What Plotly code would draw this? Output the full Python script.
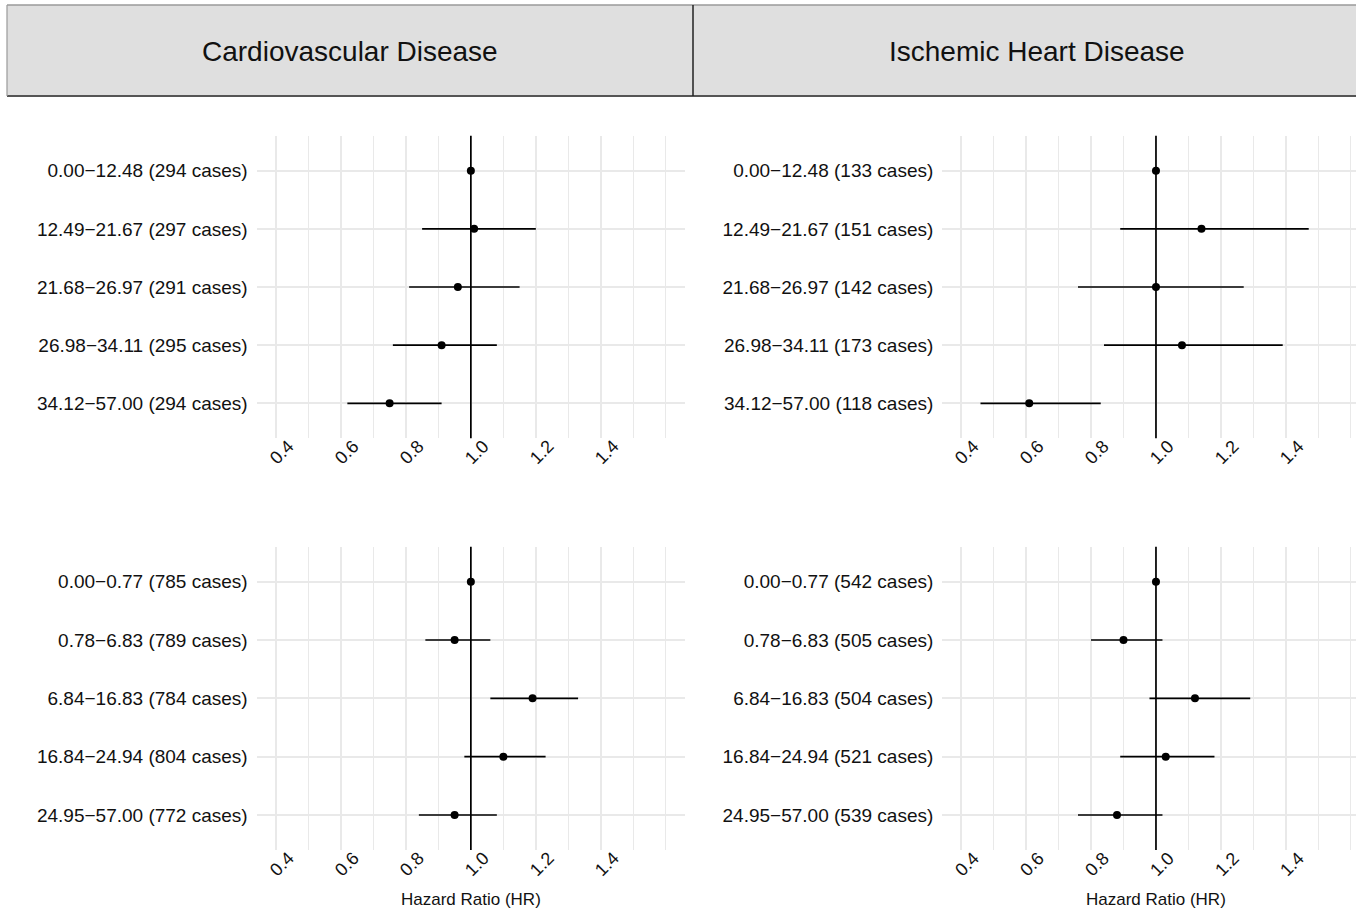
import plotly.graph_objects as go

# ---------------- data ----------------
panel_titles = ["Cardiovascular Disease", "Ischemic Heart Disease"]
x_title = "Hazard Ratio (HR)"
x_tick_vals = [0.4, 0.6, 0.8, 1.0, 1.2, 1.4]
x_tick_text = ["0.4", "0.6", "0.8", "1.0", "1.2", "1.4"]

cvd_top_labels = ["0.00−12.48 (294 cases)", "12.49−21.67 (297 cases)", "21.68−26.97 (291 cases)",
                  "26.98−34.11 (295 cases)", "34.12−57.00 (294 cases)"]
cvd_top_hr = [1.00, 1.01, 0.96, 0.91, 0.75]
cvd_top_lo = [1.00, 0.85, 0.81, 0.76, 0.62]
cvd_top_hi = [1.00, 1.20, 1.15, 1.08, 0.91]

ihd_top_labels = ["0.00−12.48 (133 cases)", "12.49−21.67 (151 cases)", "21.68−26.97 (142 cases)",
                  "26.98−34.11 (173 cases)", "34.12−57.00 (118 cases)"]
ihd_top_hr = [1.00, 1.14, 1.00, 1.08, 0.61]
ihd_top_lo = [1.00, 0.89, 0.76, 0.84, 0.46]
ihd_top_hi = [1.00, 1.47, 1.27, 1.39, 0.83]

cvd_bot_labels = ["0.00−0.77 (785 cases)", "0.78−6.83 (789 cases)", "6.84−16.83 (784 cases)",
                  "16.84−24.94 (804 cases)", "24.95−57.00 (772 cases)"]
cvd_bot_hr = [1.00, 0.95, 1.19, 1.10, 0.95]
cvd_bot_lo = [1.00, 0.86, 1.06, 0.98, 0.84]
cvd_bot_hi = [1.00, 1.06, 1.33, 1.23, 1.08]

ihd_bot_labels = ["0.00−0.77 (542 cases)", "0.78−6.83 (505 cases)", "6.84−16.83 (504 cases)",
                  "16.84−24.94 (521 cases)", "24.95−57.00 (539 cases)"]
ihd_bot_hr = [1.00, 0.90, 1.12, 1.03, 0.88]
ihd_bot_lo = [1.00, 0.80, 0.98, 0.89, 0.76]
ihd_bot_hi = [1.00, 1.02, 1.29, 1.18, 1.02]

# ---------------- layout geometry ----------------
W, H = 1356, 909
FONT = "Liberation Sans, Arial, Helvetica, sans-serif"
INK = "#111111"
GRID = "#e9e9e9"

def px_x(p):
    return p / W

def px_y(p):
    return 1 - p / H

panels = [
    # labels, hr, lo, hi, x-domain px, y-domain px (top,bottom), x-range
    (cvd_top_labels, cvd_top_hr, cvd_top_lo, cvd_top_hi, (256.7, 685.0), (135.8, 438.2), [0.341, 1.659]),
    (ihd_top_labels, ihd_top_hr, ihd_top_lo, ihd_top_hi, (942.3, 1356.0), (135.8, 438.2), [0.3425, 1.6155]),
    (cvd_bot_labels, cvd_bot_hr, cvd_bot_lo, cvd_bot_hi, (256.7, 685.0), (546.7, 850.0), [0.341, 1.659]),
    (ihd_bot_labels, ihd_bot_hr, ihd_bot_lo, ihd_bot_hi, (942.3, 1356.0), (546.7, 850.0), [0.3425, 1.6155]),
]

fig = go.Figure()
layout = dict(
    width=W, height=H, autosize=False,
    margin=dict(l=0, r=0, t=0, b=0),
    paper_bgcolor="white", plot_bgcolor="white",
    showlegend=False,
    font=dict(family=FONT, color=INK),
)
shapes = []
annotations = []

for i, (labels, hr, lo, hi, xd, yd, xr) in enumerate(panels):
    n = i + 1
    xa = "x" if n == 1 else f"x{n}"
    ya = "y" if n == 1 else f"y{n}"
    err_plus = [h - m for h, m in zip(hi, hr)]
    err_minus = [m - l for m, l in zip(hr, lo)]
    fig.add_trace(go.Scatter(
        x=hr, y=labels, mode="markers",
        marker=dict(color="black", size=8),
        error_x=dict(type="data", array=err_plus, arrayminus=err_minus,
                     symmetric=False, width=0, thickness=1.7, color="black"),
        xaxis=xa, yaxis=ya, hoverinfo="x+y",
    ))
    xkey = "xaxis" if n == 1 else f"xaxis{n}"
    ykey = "yaxis" if n == 1 else f"yaxis{n}"
    layout[xkey] = dict(
        domain=[px_x(xd[0]), min(1.0, px_x(xd[1]))],
        range=xr, anchor=ya,
        tickmode="array", tickvals=x_tick_vals, ticktext=x_tick_text,
        showticklabels=False,
        showgrid=True, gridcolor=GRID, gridwidth=1.5,
        minor=dict(tickmode="array", tickvals=[0.5, 0.7, 0.9, 1.1, 1.3, 1.5, 1.6],
                   showgrid=True, gridcolor=GRID, gridwidth=1.2),
        zeroline=False, showline=False, ticks="",
        fixedrange=True,
    )
    layout[ykey] = dict(
        domain=[px_y(yd[1]), px_y(yd[0])],
        type="category", categoryorder="array", categoryarray=labels,
        range=[4.6, -0.6], anchor=xa,
        tickfont=dict(size=19, family=FONT, color=INK),
        showgrid=True, gridcolor=GRID, gridwidth=1.5,
        zeroline=False, showline=False, ticks="",
        ticklabelstandoff=8,
        fixedrange=True,
    )
    # reference line at HR = 1
    shapes.append(dict(type="line", xref=xa, yref=f"{ya} domain",
                       x0=1.0, x1=1.0, y0=0, y1=1,
                       line=dict(color="black", width=1.7), layer="above"))
    # rotated x tick labels (ggplot-style angle=45, hjust=1)
    for v, t in zip(x_tick_vals, x_tick_text):
        annotations.append(dict(text=t, xref=xa, yref="paper",
                                x=v, y=px_y(yd[1] + 13.5), xshift=6,
                                xanchor="center", yanchor="middle", textangle=-45,
                                showarrow=False,
                                font=dict(size=18, family=FONT, color=INK)))

# facet strips
strip_top, strip_bot = 5, 96
strips = [(7, 693, 350.0, panel_titles[0]), (693, 1380, 1036.5, panel_titles[1])]
for x0, x1, cx, txt in strips:
    shapes.append(dict(type="rect", xref="paper", yref="paper",
                       x0=px_x(x0), x1=px_x(x1), y0=px_y(strip_bot), y1=px_y(strip_top),
                       fillcolor="#dfdfdf", line=dict(width=0), layer="below"))
    annotations.append(dict(text=txt, xref="paper", yref="paper",
                            x=px_x(cx), y=px_y(51), xanchor="center", yanchor="middle",
                            showarrow=False, font=dict(size=28, family=FONT, color=INK)))
# strip borders
shapes.append(dict(type="line", xref="paper", yref="paper",
                   x0=px_x(7), x1=px_x(1380), y0=px_y(strip_top), y1=px_y(strip_top),
                   line=dict(color="#9a9a9a", width=1.5)))
shapes.append(dict(type="line", xref="paper", yref="paper",
                   x0=px_x(7), x1=px_x(1380), y0=px_y(strip_bot), y1=px_y(strip_bot),
                   line=dict(color="#555555", width=2)))
shapes.append(dict(type="line", xref="paper", yref="paper",
                   x0=px_x(7), x1=px_x(7), y0=px_y(strip_bot), y1=px_y(strip_top),
                   line=dict(color="#9a9a9a", width=1.2)))
shapes.append(dict(type="line", xref="paper", yref="paper",
                   x0=px_x(693), x1=px_x(693), y0=px_y(strip_bot), y1=px_y(strip_top),
                   line=dict(color="#222222", width=1.5)))

# x-axis titles (bottom row)
for cx in (470.8, 1156.0):
    annotations.append(dict(text=x_title, xref="paper", yref="paper",
                            x=px_x(cx), y=px_y(899), xanchor="center", yanchor="middle",
                            showarrow=False, font=dict(size=17, family=FONT, color=INK)))

layout["shapes"] = shapes
layout["annotations"] = annotations
fig.update_layout(**layout)

reset_js = ("document.documentElement.style.margin='0';"
            "document.documentElement.style.overflow='hidden';"
            "document.body.style.margin='0';document.body.style.padding='0';"
            "document.body.style.overflow='hidden';")
fig.write_html("out.html", post_script=reset_js, config={"displayModeBar": False})
